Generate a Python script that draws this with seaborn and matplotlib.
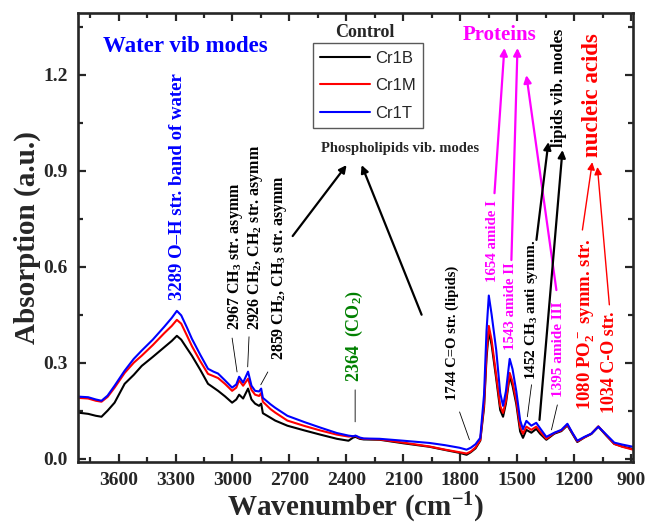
import pandas as pd
import seaborn as sns
import matplotlib.pyplot as plt
from matplotlib.ticker import MultipleLocator, FormatStrFormatter

# FTIR spectra (wavenumber in cm-1, absorption in a.u.)
wavenumber = [3815, 3760, 3720, 3690, 3658, 3621, 3568, 3520, 3478, 3420,
              3360, 3320, 3293, 3270, 3240, 3214, 3170, 3129, 3100, 3076,
              3040, 3002, 2980, 2965, 2944, 2918, 2900, 2881, 2860, 2849,
              2840, 2800, 2775, 2711, 2620, 2537, 2450, 2389, 2364, 2352,
              2330, 2309, 2225, 2100, 1962, 1880, 1804, 1767, 1745, 1720,
              1695, 1675, 1662, 1650, 1635, 1611, 1590, 1575, 1560, 1540,
              1525, 1505, 1485, 1470, 1452, 1426, 1400, 1380, 1347, 1305,
              1268, 1236, 1210, 1184, 1147, 1110, 1073, 1031, 989, 947, 890]
cr1b = [0.144, 0.140, 0.134, 0.131, 0.150, 0.175, 0.234, 0.262, 0.290, 0.318,
        0.348, 0.368, 0.384, 0.372, 0.345, 0.322, 0.278, 0.234, 0.222, 0.212,
        0.195, 0.175, 0.185, 0.200, 0.188, 0.219, 0.185, 0.172, 0.165, 0.172,
        0.142, 0.128, 0.119, 0.103, 0.088, 0.075, 0.062, 0.056, 0.066, 0.068,
        0.062, 0.060, 0.059, 0.048, 0.037, 0.027, 0.018, 0.012, 0.020, 0.032,
        0.056, 0.160, 0.315, 0.398, 0.355, 0.250, 0.152, 0.131, 0.172, 0.258,
        0.228, 0.170, 0.085, 0.065, 0.090, 0.081, 0.093, 0.078, 0.059, 0.078,
        0.086, 0.104, 0.078, 0.052, 0.066, 0.077, 0.100, 0.072, 0.046, 0.038, 0.030]
cr1m = [0.190, 0.188, 0.181, 0.178, 0.193, 0.222, 0.268, 0.300, 0.322, 0.355,
        0.392, 0.415, 0.434, 0.422, 0.385, 0.352, 0.305, 0.265, 0.258, 0.252,
        0.234, 0.212, 0.222, 0.245, 0.228, 0.250, 0.215, 0.200, 0.196, 0.205,
        0.178, 0.155, 0.144, 0.119, 0.102, 0.088, 0.075, 0.069, 0.070, 0.071,
        0.064, 0.062, 0.060, 0.050, 0.038, 0.028, 0.020, 0.016, 0.022, 0.035,
        0.058, 0.170, 0.330, 0.415, 0.370, 0.260, 0.165, 0.143, 0.180, 0.268,
        0.240, 0.180, 0.098, 0.078, 0.100, 0.090, 0.100, 0.085, 0.062, 0.080,
        0.088, 0.106, 0.080, 0.054, 0.066, 0.078, 0.101, 0.073, 0.046, 0.037, 0.028]
cr1t = [0.194, 0.192, 0.185, 0.181, 0.197, 0.228, 0.275, 0.312, 0.338, 0.372,
        0.412, 0.440, 0.462, 0.448, 0.410, 0.375, 0.325, 0.281, 0.272, 0.266,
        0.245, 0.222, 0.232, 0.256, 0.238, 0.272, 0.228, 0.212, 0.210, 0.219,
        0.190, 0.170, 0.159, 0.134, 0.114, 0.097, 0.080, 0.072, 0.070, 0.072,
        0.066, 0.063, 0.062, 0.056, 0.049, 0.042, 0.034, 0.028, 0.034, 0.045,
        0.065, 0.200, 0.400, 0.510, 0.450, 0.340, 0.205, 0.165, 0.210, 0.312,
        0.280, 0.210, 0.120, 0.092, 0.118, 0.103, 0.112, 0.095, 0.068, 0.081,
        0.090, 0.109, 0.081, 0.056, 0.068, 0.078, 0.100, 0.075, 0.050, 0.044, 0.037]
samples = ["Cr1B", "Cr1M", "Cr1T"]

n = len(wavenumber)
df = pd.DataFrame({"wn": wavenumber * 3,
                   "absorption": cr1b + cr1m + cr1t,
                   "sample": [s for s in samples for _ in range(n)]})

sns.set_style("ticks")
plt.rcParams['font.family'] = ['Liberation Serif', 'DejaVu Serif']
plt.rcParams['font.weight'] = 'bold'
plt.rcParams['mathtext.default'] = 'regular'

fig = plt.figure(figsize=(6.48, 5.26), dpi=100)
ax = fig.add_axes([0.120, 0.122, 0.857, 0.853])
sns.lineplot(data=df, x="wn", y="absorption", hue="sample", hue_order=samples,
             palette={"Cr1B": "black", "Cr1M": "red", "Cr1T": "blue"},
             sort=False, estimator=None, lw=1.5, ax=ax)

ax.set_xlim(3815, 890)
ax.set_ylim(-0.01, 1.393)
ax.xaxis.set_major_locator(MultipleLocator(300))
ax.xaxis.set_minor_locator(MultipleLocator(150))
ax.yaxis.set_major_locator(MultipleLocator(0.3))
ax.yaxis.set_minor_locator(MultipleLocator(0.15))
ax.yaxis.set_major_formatter(FormatStrFormatter('%.1f'))
ax.tick_params(which='both', direction='in', top=True, right=True, width=1.6,
               labelsize=14, pad=7)
ax.tick_params(which='major', length=6)
ax.tick_params(which='minor', length=3.5)
for sp in ax.spines.values():
    sp.set_linewidth(1.9)
ax.set_xlabel("Wavenumber (cm$^{-1}$)", fontsize=21, fontweight='bold',
              labelpad=2)
ax.set_ylabel("Absorption (a.u.)", fontsize=21, fontweight='bold',
              labelpad=2)

handles, labels = ax.get_legend_handles_labels()
ax.legend(handles, labels, loc='upper left', bbox_to_anchor=(0.423, 0.933),
          borderaxespad=0, fancybox=False, edgecolor='0.35', framealpha=1,
          handlelength=3.0, handletextpad=0.3, labelspacing=0.75,
          borderpad=0.45,
          prop={'family': 'Liberation Sans', 'size': 12, 'weight': 'normal'})
ax.text(0.517, 0.957, "Control", transform=ax.transAxes, ha='center',
        va='center', fontsize=13)


def vtext(x, y, s, color='black', size=11):
    ax.text(x, y, s, rotation=90, ha='center', va='bottom', color=color,
            fontsize=size, fontweight='bold')


def line(x1, y1, x2, y2, color='black', lw=0.6, head=False):
    style = '-|>' if head else '-'
    ax.annotate('', xy=(x2, y2), xytext=(x1, y1),
                arrowprops=dict(arrowstyle=style, color=color, lw=lw,
                                mutation_scale=11, shrinkA=0, shrinkB=0))


ax.text(3251, 1.29, "Water vib modes", color='blue', fontsize=16.5,
        ha='center', va='center')
vtext(3292, 0.496, "3289 O\u2013H str. band of water", 'blue', 13.5)
vtext(2986, 0.402, "2967 CH$_3$ str. asymm", size=11.5)
vtext(2878, 0.402, "2926 CH$_2$, CH$_2$ str. asymm", size=11.5)
vtext(2751, 0.309, "2859 CH$_2$, CH$_3$ str. asymm", size=11.5)
line(3002, 0.377, 2976, 0.271)
line(2913, 0.381, 2920, 0.287)
line(2814, 0.271, 2851, 0.231)

ax.text(2115, 0.971, "Phospholipids vib. modes", fontsize=10.5,
        ha='center', va='center')
line(2683, 0.696, 2399, 0.918, lw=1.6, head=True)
line(2004, 0.450, 2320, 0.918, lw=1.6, head=True)

vtext(2357, 0.240, "2364  (CO$_2$)", 'green', 13)
line(2354, 0.215, 2354, 0.115)

vtext(1841, 0.184, "1744 C=O str. (lipids)", size=10.5)
line(1804, 0.146, 1752, 0.059)

ax.text(1594, 1.324, "Proteins", color='magenta', fontsize=15,
        ha='center', va='center')
vtext(1630, 0.553, "1654 amide I", 'magenta', 10.7)
line(1620, 0.830, 1568, 1.284, 'magenta', 1.6, True)
vtext(1536, 0.340, "1543 amide II", 'magenta', 10.7)
line(1531, 0.621, 1499, 1.284, 'magenta', 1.6, True)
vtext(1283, 0.193, "1395 amide III", 'magenta', 11)
line(1294, 0.527, 1452, 1.199, 'magenta', 1.6, True)
line(1289, 0.168, 1320, 0.090)

vtext(1425, 0.246, "1452 CH$_3$ anti symm.", size=11)
line(1425, 0.231, 1447, 0.131)
line(1399, 0.684, 1336, 0.990, lw=1.6, head=True)
line(1383, 0.121, 1262, 0.965, lw=1.6, head=True)
vtext(1278, 0.974, "lipids vib. modes", size=12)

vtext(1105, 0.943, "nucleic acids", 'red', 16.5)
vtext(1136, 0.153, "1080 PO$_2^-$ symm. str.", 'red', 13.5)
vtext(1015, 0.143, "1034 C-O str.", 'red', 13)
line(1157, 0.715, 1105, 0.927, 'red', 1.0, True)
line(1015, 0.481, 1078, 0.912, 'red', 1.0, True)

fig.savefig("out.png", dpi=100)
